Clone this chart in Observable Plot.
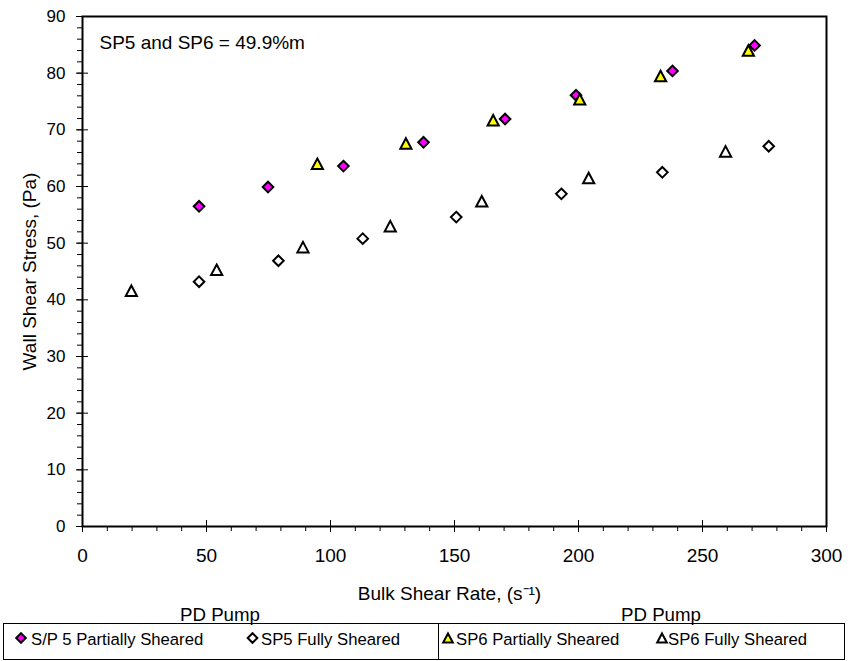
<!DOCTYPE html>
<html>
<head>
<meta charset="utf-8">
<script src="https://cdn.jsdelivr.net/npm/d3@7"></script>
<script src="https://cdn.jsdelivr.net/npm/@observablehq/plot@0.6"></script>
<style>
  html, body { margin: 0; padding: 0; background: #fff; }
  #wrap { width: 848px; font-family: "Liberation Sans", Arial, sans-serif; }
  #wrap svg { display: block; }
</style>
</head>
<body>
<div id="wrap"></div>
<script>
// ---- data ----
const sp5PartialX = [47.0, 74.8, 105.2, 137.5, 170.4, 199.0, 237.9, 271.0];
const sp5PartialY = [56.5, 59.9, 63.6, 67.8, 71.9, 76.1, 80.4, 84.9];
const sp5FullX = [47.0, 79.0, 113.0, 150.7, 193.1, 233.8, 276.7];
const sp5FullY = [43.2, 46.9, 50.8, 54.6, 58.7, 62.5, 67.1];
const sp6PartialX = [94.7, 130.4, 165.6, 200.5, 233.1, 268.5];
const sp6PartialY = [64.0, 67.6, 71.7, 75.4, 79.5, 84.0];
const sp6FullX = [19.7, 54.1, 88.9, 124.1, 161.0, 204.1, 259.3];
const sp6FullY = [41.6, 45.3, 49.3, 53.0, 57.4, 61.5, 66.2];

const seriesNames = ["S/P 5 Partially Sheared", "SP5 Fully Sheared", "SP6 Partially Sheared", "SP6 Fully Sheared"];
const groupLabels = ["PD Pump", "PD Pump"];
const xMajor = [0, 50, 100, 150, 200, 250, 300];
const xMinor = d3.range(0, 301, 10);
const yMajor = [0, 10, 20, 30, 40, 50, 60, 70, 80, 90];
const yMinor = d3.range(0, 91, 2);
const xLabel = "Bulk Shear Rate, (s\u207B\u00B9)";
const yLabel = "Wall Shear Stress, (Pa)";
const note = "SP5 and SP6 = 49.9%m";

const zip = (xs, ys) => xs.map((x, i) => ({x, y: ys[i]}));

// custom marker shapes centred on their bounding box
const diamondSym = {
  draw(ctx, size) {
    const r = Math.sqrt(size / Math.PI);
    ctx.moveTo(0, -r); ctx.lineTo(r, 0); ctx.lineTo(0, r); ctx.lineTo(-r, 0); ctx.closePath();
  }
};
const triangleSym = {
  draw(ctx, size) {
    const r = Math.sqrt(size / Math.PI);
    const h = r * 0.94;
    ctx.moveTo(0, -h); ctx.lineTo(r, h); ctx.lineTo(-r, h); ctx.closePath();
  }
};

const font = "Liberation Sans, Arial, sans-serif";

const chart = Plot.plot({
  width: 848,
  height: 604,
  marginLeft: 82,
  marginRight: 22,
  marginTop: 16,
  marginBottom: 78,
  style: {fontFamily: font, background: "#fff", color: "#000", overflow: "visible"},
  x: {domain: [0, 300]},
  y: {domain: [0, 90]},
  marks: [
    // x axis ticks
    Plot.axisX(xMinor, {tickSize: 5, fill: "none", label: null, stroke: "#000"}),
    Plot.axisX(xMajor, {tickSize: 12, insetBottom: 6, fill: "none", label: null, stroke: "#000"}),
    Plot.axisX(xMajor, {tickSize: 0, tickPadding: 22, fontSize: 19, label: null, fill: "#000"}),
    // y axis ticks
    Plot.axisY(yMinor, {tickSize: 5, fill: "none", label: null, stroke: "#000"}),
    Plot.axisY(yMajor, {tickSize: 12, insetLeft: 6, fill: "none", label: null, stroke: "#000"}),
    Plot.axisY(yMajor, {tickSize: 0, tickPadding: 17, fontSize: 17, label: null, fill: "#000"}),
    Plot.frame({stroke: "#000", strokeWidth: 2}),
    // axis titles and note
    Plot.text([xLabel], {frameAnchor: "bottom", dx: -5, dy: 73, lineAnchor: "bottom", fontSize: 19, fill: "#000"}),
    Plot.text([yLabel], {frameAnchor: "left", dx: -47, rotate: -90, textAnchor: "middle", lineAnchor: "bottom", fontSize: 19, fill: "#000"}),
    Plot.text([note], {frameAnchor: "top-left", dx: 17, dy: 32, textAnchor: "start", lineAnchor: "bottom", fontSize: 19, fill: "#000"}),
    // series
    Plot.dot(zip(sp5PartialX, sp5PartialY), {x: "x", y: "y", symbol: diamondSym, r: 5.3, fill: "#ff00ff", stroke: "#000", strokeWidth: 2}),
    Plot.dot(zip(sp5FullX, sp5FullY), {x: "x", y: "y", symbol: diamondSym, r: 5.3, fill: "#fff", stroke: "#000", strokeWidth: 2}),
    Plot.dot(zip(sp6PartialX, sp6PartialY), {x: "x", y: "y", symbol: triangleSym, r: 5.6, fill: "#ffff00", stroke: "#000", strokeWidth: 2}),
    Plot.dot(zip(sp6FullX, sp6FullY), {x: "x", y: "y", symbol: triangleSym, r: 5.6, fill: "#fff", stroke: "#000", strokeWidth: 2})
  ]
});
document.getElementById("wrap").appendChild(chart);

// ---- legend below the chart ----
const lg = d3.select("#wrap").append("svg")
  .attr("width", 848).attr("height", 57)
  .style("font-family", font);
lg.selectAll("text.grp").data(groupLabels).join("text")
  .attr("class", "grp")
  .attr("x", (d, i) => [220, 661][i]).attr("y", 17)
  .attr("text-anchor", "middle").attr("font-size", 18.7).attr("fill", "#000")
  .text(d => d);
lg.append("rect").attr("x", 3.5).attr("y", 19.5).attr("width", 841).attr("height", 36)
  .attr("fill", "none").attr("stroke", "#000");
lg.append("line").attr("x1", 438.5).attr("x2", 438.5).attr("y1", 19.5).attr("y2", 55.5).attr("stroke", "#000");
const items = [
  {sym: diamondSym, r: 4.8, fill: "#ff00ff", cx: 21, tx: 31},
  {sym: diamondSym, r: 4.8, fill: "#fff", cx: 252.5, tx: 261},
  {sym: triangleSym, r: 4.8, fill: "#ffff00", cx: 448, tx: 456},
  {sym: triangleSym, r: 4.8, fill: "#fff", cx: 662, tx: 668}
];
items.forEach((it, i) => {
  const p = d3.path();
  it.sym.draw(p, it.r * it.r * Math.PI);
  lg.append("path").attr("d", p.toString())
    .attr("transform", `translate(${it.cx},34)`)
    .attr("fill", it.fill).attr("stroke", "#000").attr("stroke-width", 2);
  lg.append("text").attr("x", it.tx).attr("y", 41)
    .attr("font-size", 16.7).attr("fill", "#000").text(seriesNames[i]);
});
</script>
</body>
</html>
